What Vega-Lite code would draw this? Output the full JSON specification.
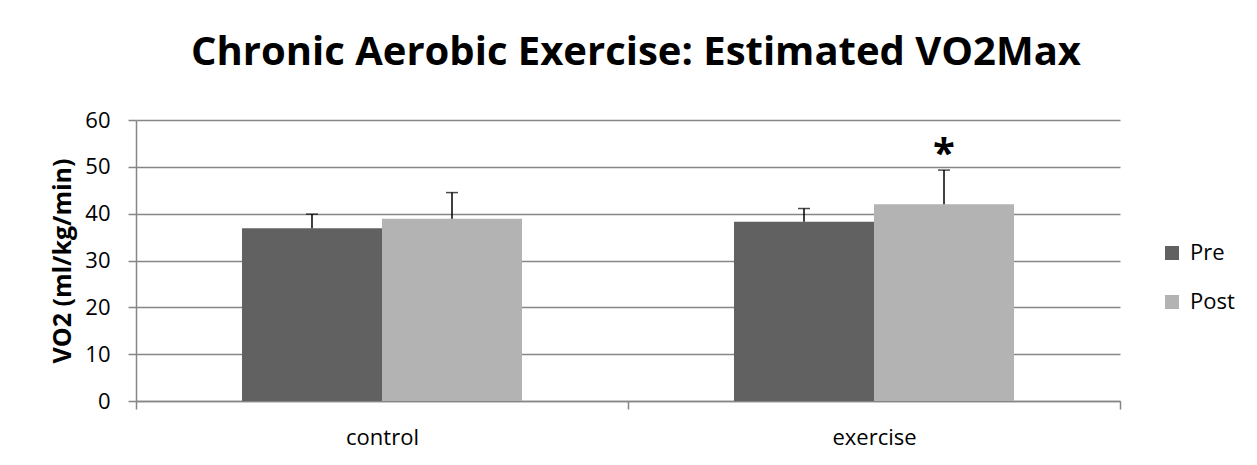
{
  "$schema": "https://vega.github.io/schema/vega-lite/v6.json",
  "autosize": {"type": "none"},
  "padding": {"left": 136, "top": 120, "right": 137, "bottom": 64},
  "width": 984,
  "height": 281,
  "background": "white",
  "config": {
    "font": "Open Sans",
    "view": {"stroke": null},
    "axis": {"labelFont": "Open Sans", "titleFont": "Open Sans", "labelColor": "#000000", "titleColor": "#000000"}
  },
  "title": {
    "text": "Chronic Aerobic Exercise: Estimated VO2Max",
    "fontSize": 40,
    "fontWeight": "bold",
    "font": "Open Sans",
    "color": "#000000",
    "anchor": "middle",
    "baseline": "alphabetic",
    "offset": 4,
    "dx": 8
  },
  "data": {
    "values": [
      {"group": "control", "phase": "Pre", "value": 36.9, "hi": 39.9, "sig": ""},
      {"group": "control", "phase": "Post", "value": 38.9, "hi": 44.5, "sig": ""},
      {"group": "exercise", "phase": "Pre", "value": 38.3, "hi": 41.1, "sig": ""},
      {"group": "exercise", "phase": "Post", "value": 42.0, "hi": 49.3, "sig": "*"}
    ]
  },
  "encoding": {
    "x": {
      "field": "group",
      "type": "nominal",
      "sort": ["control", "exercise"],
      "scale": {"paddingInner": 0, "paddingOuter": 0},
      "axis": {
        "title": null,
        "labelAngle": 0,
        "labelFontSize": 22,
        "labelPadding": 18,
        "tickBand": "extent",
        "tickSize": 8,
        "tickColor": "#868686",
        "domainColor": "#868686",
        "domainWidth": 1.5,
        "tickWidth": 1.5
      }
    },
    "xOffset": {"field": "phase", "type": "nominal", "sort": ["Pre", "Post"], "scale": {"paddingInner": 0, "paddingOuter": 0.757}}
  },
  "layer": [
    {
      "mark": {"type": "bar"},
      "encoding": {
        "y": {
          "field": "value",
          "type": "quantitative",
          "scale": {"domain": [0, 60]},
          "axis": {
            "title": "VO2 (ml/kg/min)",
            "titleFontSize": 25,
            "titleFontWeight": "bold",
            "titlePadding": 9,
            "values": [0, 10, 20, 30, 40, 50, 60],
            "labelFontSize": 22,
            "labelPadding": 18,
            "tickSize": 8,
            "tickColor": "#868686",
            "tickWidth": 1.5,
            "domainColor": "#868686",
            "domainWidth": 1.5,
            "grid": true,
            "gridColor": "#868686",
            "gridWidth": 1.5
          }
        },
        "color": {
          "field": "phase",
          "type": "nominal",
          "sort": ["Pre", "Post"],
          "scale": {"domain": ["Pre", "Post"], "range": ["#616161", "#b3b3b3"]},
          "legend": {
            "title": null,
            "orient": "none",
            "legendX": 1025,
            "legendY": 122,
            "padding": 0,
            "symbolType": "square",
            "symbolSize": 196,
            "symbolStrokeWidth": 0,
            "labelFontSize": 22,
            "labelFont": "Open Sans",
            "labelColor": "#000000",
            "labelOffset": 7,
            "rowPadding": 27
          }
        }
      }
    },
    {
      "mark": {"type": "rule", "color": "#000000", "strokeWidth": 1.5},
      "encoding": {
        "y": {"field": "value", "type": "quantitative"},
        "y2": {"field": "hi"}
      }
    },
    {
      "mark": {"type": "tick", "color": "#000000", "thickness": 1.5, "size": 12},
      "encoding": {
        "y": {"field": "hi", "type": "quantitative"}
      }
    },
    {
      "mark": {"type": "text", "fontSize": 40, "fontWeight": "bold", "baseline": "alphabetic", "color": "#000000", "dy": -3},
      "encoding": {
        "y": {"field": "hi", "type": "quantitative"},
        "text": {"field": "sig"}
      }
    }
  ]
}
